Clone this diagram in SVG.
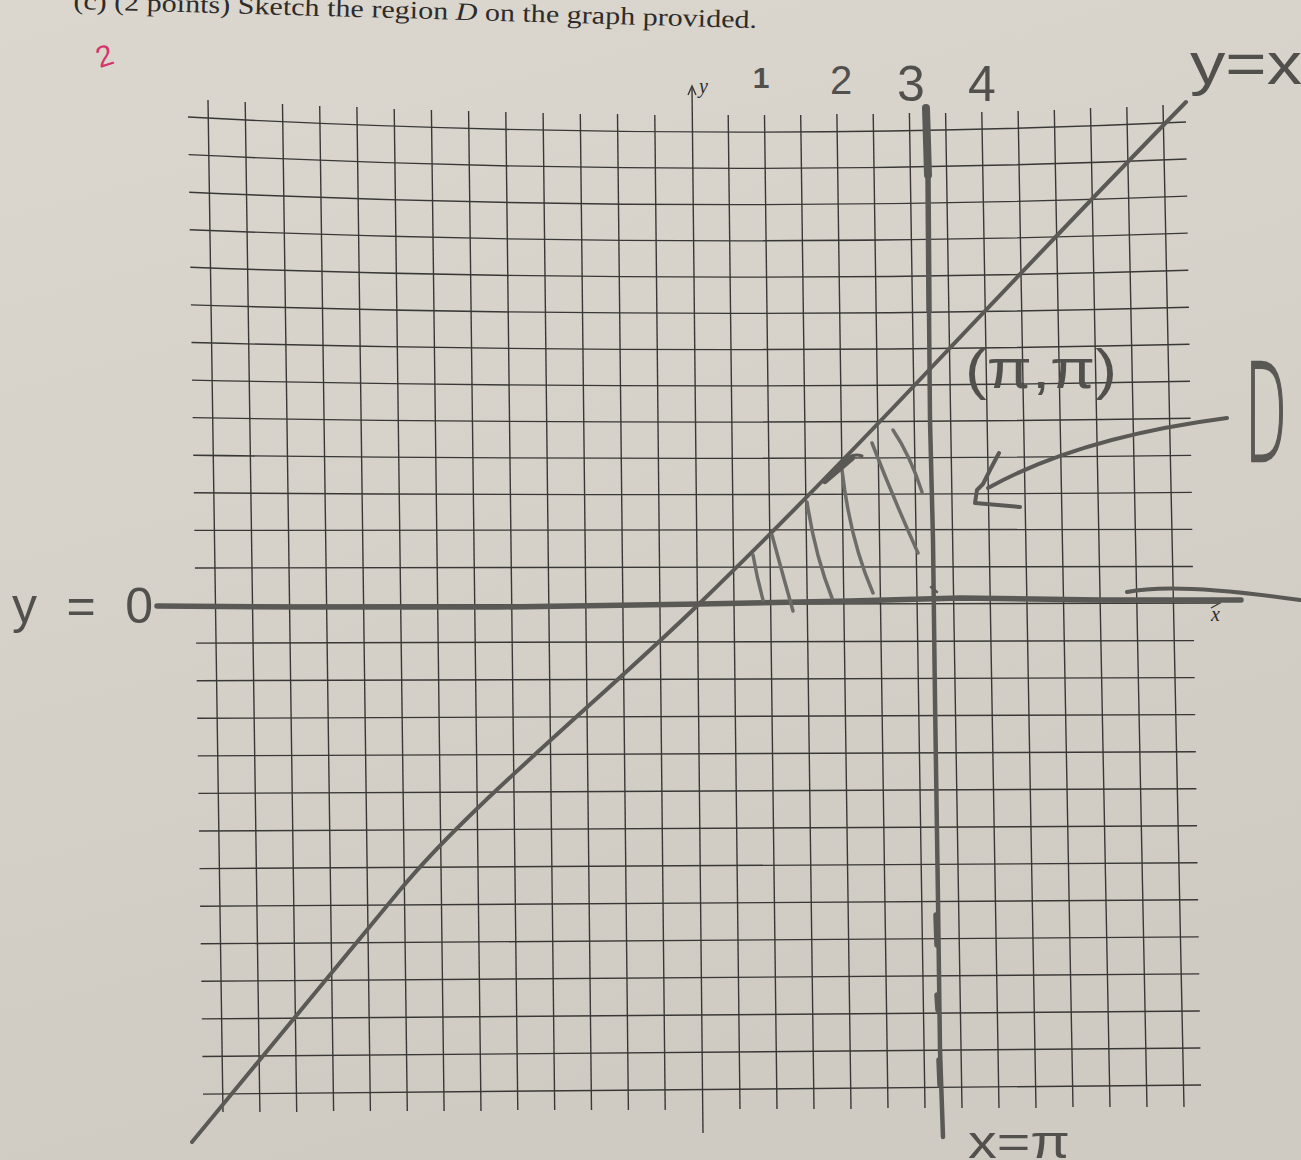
<svg xmlns="http://www.w3.org/2000/svg" width="1301" height="1160" viewBox="0 0 1301 1160">
<defs>
<linearGradient id="paper" x1="0" y1="0" x2="0.3" y2="1">
<stop offset="0" stop-color="#dbd7cf"/>
<stop offset="1" stop-color="#d0cbc2"/>
</linearGradient>
</defs>
<style>
.g{stroke:#3a3836;stroke-width:1.4;fill:none}
.p{stroke:#5b5956;stroke-linecap:round;stroke-linejoin:round;fill:none}
.h{stroke:#6e6c69;stroke-width:3.5;stroke-linecap:round;fill:none}
.hw{font-family:"Liberation Sans","DejaVu Sans",sans-serif;fill:#52504d}
.pr{font-family:"Liberation Serif","DejaVu Serif",serif;fill:#2e2c2a}
</style>
<rect x="0" y="0" width="1301" height="1160" fill="url(#paper)"/>

<g id="title">
<text class="pr" x="73" y="14" font-size="25" textLength="684" lengthAdjust="spacingAndGlyphs" transform="rotate(1.6 253 16)">(c) (2 points) Sketch the region <tspan font-style="italic">D</tspan> on the graph provided.</text>
</g>
<g id="score">
<text x="96" y="65" font-family="Liberation Sans, sans-serif" font-size="30" fill="#d4356c" transform="rotate(-18 108 55)">2</text>
</g>

<g id="grid-horizontal">
<path class="g" d="M188,117 Q697,144.5 1186,122"/>
<path class="g" d="M188.6,154.6 Q697,179.7 1186.6,159"/>
<path class="g" d="M189.2,192.2 Q697,215 1187.2,196.1"/>
<path class="g" d="M189.7,229.7 Q697,250.1 1187.7,233.1"/>
<path class="g" d="M190.3,267.3 Q697,285.4 1188.3,270.2"/>
<path class="g" d="M190.9,304.9 Q697,320.6 1188.9,307.2"/>
<path class="g" d="M191.5,342.5 Q697,355.8 1189.5,344.2"/>
<path class="g" d="M192,380.1 Q697,391 1190,381.3"/>
<path class="g" d="M192.6,417.6 Q697,426.2 1190.6,418.3"/>
<path class="g" d="M193.2,455.2 Q697,461.4 1191.2,455.4"/>
<path class="g" d="M193.8,492.8 Q697,496.6 1191.8,492.4"/>
<path class="g" d="M194.3,530.4 Q697,531.8 1192.3,529.4"/>
<path class="g" d="M194.9,568 L1192.9,566.5"/>
<path class="g" d="M195.5,605.5 L1218,603"/>
<path class="g" d="M196.1,643.1 L1194.1,640.6"/>
<path class="g" d="M196.7,680.7 L1194.7,677.6"/>
<path class="g" d="M197.2,718.3 L1195.2,714.6"/>
<path class="g" d="M197.8,755.9 L1195.8,751.7"/>
<path class="g" d="M198.4,793.4 L1196.4,788.7"/>
<path class="g" d="M199,831 L1197,825.8"/>
<path class="g" d="M199.5,868.6 L1197.5,862.8"/>
<path class="g" d="M200.1,906.2 L1198.1,899.8"/>
<path class="g" d="M200.7,943.8 L1198.7,936.9"/>
<path class="g" d="M201.3,981.3 L1199.3,973.9"/>
<path class="g" d="M201.8,1018.9 L1199.8,1011"/>
<path class="g" d="M202.4,1056.5 L1200.4,1048"/>
<path class="g" d="M203,1094.1 L1201,1085"/>
</g>

<g id="grid-vertical">
<path class="g" d="M208,100 L223,1112"/>
<path class="g" d="M245.2,102 L259.9,1112"/>
<path class="g" d="M282.5,104 L296.7,1112"/>
<path class="g" d="M319.7,106 L333.6,1111"/>
<path class="g" d="M356.9,107 L370.4,1111"/>
<path class="g" d="M394.2,109 L407.3,1111"/>
<path class="g" d="M431.4,110 L444.1,1111"/>
<path class="g" d="M468.6,111 L481,1111"/>
<path class="g" d="M505.8,112 L517.8,1110"/>
<path class="g" d="M543.1,113 L554.7,1110"/>
<path class="g" d="M580.3,114 L591.5,1110"/>
<path class="g" d="M617.5,114 L628.4,1110"/>
<path class="g" d="M654.8,115 L665.2,1110"/>
<path class="g" d="M728.2,115 L740,1109"/>
<path class="g" d="M764.5,115 L777,1109"/>
<path class="g" d="M800.7,115 L814,1109"/>
<path class="g" d="M836.9,114 L851,1109"/>
<path class="g" d="M873.2,114 L888,1108"/>
<path class="g" d="M909.4,113 L925,1108"/>
<path class="g" d="M945.6,113 L962,1108"/>
<path class="g" d="M981.8,112 L999,1108"/>
<path class="g" d="M1018.1,111 L1036,1108"/>
<path class="g" d="M1054.3,110 L1073,1107"/>
<path class="g" d="M1090.5,108 L1110,1107"/>
<path class="g" d="M1126.8,107 L1147,1107"/>
<path class="g" d="M1163,105 L1184,1107"/>
</g>

<g id="axes">
<path class="g" d="M692,87 L703,1133"/>
<path class="g" d="M688,95 L692,86 L696,95"/>
<path class="g" d="M1211,598 L1220,603 L1211,608"/>
<text class="pr" x="699" y="93" font-size="20" font-style="italic">y</text>
<text class="pr" x="1211" y="621" font-size="20" font-style="italic">x</text>
</g>

<g id="pencil-lines">
<path class="p" stroke="#3c3a38" stroke-width="5.5" d="M157,606 L300,607 L500,607 L700,604 L850,601 L960,598 L1100,600 L1241,600"/>
<path class="p" stroke="#66645f" stroke-width="4" d="M1127,592 Q1175,582 1300,600"/>
<path class="p" stroke="#3a3836" stroke-width="8" d="M926,108 L928,175"/>
<path class="p" stroke="#4a4846" stroke-width="5.5" d="M928,175 L929,310"/>
<path class="p" stroke="#5e5c59" stroke-width="4.5" d="M929,310 L930,420 L933,540 L935,700 L938,900 L940,1050 L943,1137"/>
<path class="p" stroke="#4a4846" stroke-width="5.5" d="M936,915 L937,945 M937,995 L938,1010 M939,1060 L940,1085"/>
<path class="p" stroke="#5d5b58" stroke-width="4" d="M1186,102 C1100,190 1000,295 929,370 S760,545 700,603 C600,700 470,805 400,890 S260,1060 192,1142"/>
</g>

<g id="region-D-hatching">
<path class="h" d="M753,555 Q757,578 763,600"/>
<path class="h" d="M772,535 Q782,572 793,611"/>
<path class="h" d="M807,502 Q815,555 832,598"/>
<path class="h" d="M842,470 Q850,540 873,593"/>
<path class="h" d="M872,443 Q892,495 918,553"/>
<path class="h" d="M893,430 Q910,455 922,492"/>
<path class="p" stroke="#45433f" stroke-width="6" d="M825,481 L852,458"/>
<path class="p" stroke="#55534f" stroke-width="3" d="M842,463 Q852,452 862,456"/>
<path class="p" stroke="#6e6c69" stroke-width="2.5" d="M931,587 L937,592"/>
</g>

<g id="arrow-D">
<path class="p" stroke="#6a6865" stroke-width="4" d="M1227,418 C1150,428 1060,448 988,488"/>
<path class="p" stroke="#5f5d5a" stroke-width="4" d="M999,453 L990,470 L983,484 L977,490 L975,503 L1020,507"/>
</g>

<g id="labels">
<text class="hw" x="761" y="88" font-size="30" font-weight="bold" text-anchor="middle" fill="#3c3a38">1</text>
<text class="hw" x="841" y="94" font-size="40" text-anchor="middle" fill="#3c3a38">2</text>
<text class="hw" x="911" y="101" font-size="50" text-anchor="middle" fill="#3c3a38">3</text>
<text class="hw" x="982" y="101" font-size="50" text-anchor="middle" fill="#3c3a38">4</text>
<text class="hw" x="1190" y="84" font-size="60" textLength="112" lengthAdjust="spacingAndGlyphs">y=x</text>
<text class="hw" x="965" y="388" font-size="56" textLength="152" lengthAdjust="spacingAndGlyphs">(π,π)</text>
<text x="1245" y="461" font-family="DejaVu Sans, sans-serif" font-weight="200" font-size="136" textLength="42" lengthAdjust="spacingAndGlyphs" fill="#5a5855" stroke="#5a5855" stroke-width="2.5">D</text>
<text class="hw" x="12" y="623" font-size="50" textLength="141" lengthAdjust="spacing">y = 0</text>
<text class="hw" x="968" y="1158" font-size="46" textLength="102" lengthAdjust="spacingAndGlyphs">x=π</text>
</g>
</svg>
